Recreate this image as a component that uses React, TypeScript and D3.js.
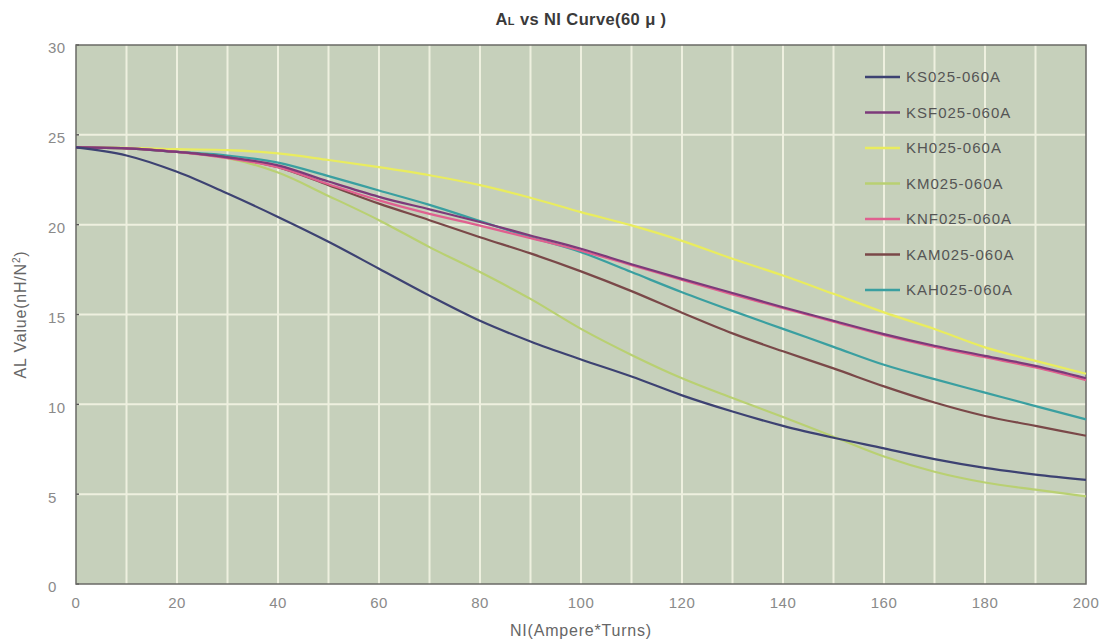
import React from "react";
import * as d3 from "d3";

const W = 1105;
const H = 641;

const niValues = [0, 10, 20, 30, 40, 50, 60, 70, 80, 90, 100, 110, 120, 130, 140, 150, 160, 170, 180, 190, 200];

const seriesNames = ["KS025-060A", "KSF025-060A", "KH025-060A", "KM025-060A", "KNF025-060A", "KAM025-060A", "KAH025-060A"];
const seriesColors = ["#3d4272", "#7c3a7a", "#e9ec5e", "#b9d072", "#e0608f", "#7a4848", "#3a9fa0"];

const ks = [24.3, 23.85, 22.94, 21.73, 20.43, 19.05, 17.55, 16.05, 14.65, 13.5, 12.5, 11.55, 10.5, 9.6, 8.8, 8.14, 7.55, 6.95, 6.46, 6.09, 5.8];
const ksf = [24.3, 24.25, 24.05, 23.75, 23.3, 22.4, 21.55, 20.85, 20.15, 19.4, 18.66, 17.8, 16.98, 16.2, 15.4, 14.65, 13.91, 13.26, 12.7, 12.14, 11.45];
const kh = [24.3, 24.28, 24.2, 24.15, 23.97, 23.6, 23.2, 22.75, 22.2, 21.5, 20.7, 19.96, 19.1, 18.1, 17.17, 16.15, 15.12, 14.19, 13.17, 12.42, 11.7];
const km = [24.3, 24.25, 24.05, 23.7, 22.9, 21.6, 20.25, 18.75, 17.36, 15.87, 14.2, 12.75, 11.45, 10.35, 9.3, 8.2, 7.1, 6.25, 5.65, 5.25, 4.88];
const knf = [24.3, 24.25, 24.05, 23.7, 23.2, 22.25, 21.35, 20.6, 19.95, 19.25, 18.55, 17.75, 16.92, 16.12, 15.35, 14.6, 13.85, 13.2, 12.62, 12.05, 11.35];
const kam = [24.3, 24.25, 24.05, 23.75, 23.2, 22.2, 21.17, 20.25, 19.3, 18.4, 17.4, 16.3, 15.1, 13.95, 12.95, 12.0, 11.0, 10.1, 9.35, 8.8, 8.25];
const kah = [24.3, 24.25, 24.05, 23.85, 23.45, 22.7, 21.9, 21.1, 20.2, 19.3, 18.47, 17.36, 16.24, 15.2, 14.2, 13.2, 12.2, 11.4, 10.65, 9.9, 9.16];

const seriesValues = [ks, ksf, kh, km, knf, kam, kah];
const drawOrder = [2, 3, 6, 5, 4, 1, 0];

const xTicks = [0, 20, 40, 60, 80, 100, 120, 140, 160, 180, 200];
const xGrid = [10, 20, 30, 40, 50, 60, 70, 80, 90, 100, 110, 120, 130, 140, 150, 160, 170, 180, 190];
const yTicks = [0, 5, 10, 15, 20, 25, 30];
const yGrid = [5, 10, 15, 20, 25];

const PL = 76, PR = 1086, PT = 45, PB = 584;

export default function App() {
  const x = d3.scaleLinear().domain([0, 200]).range([PL, PR]);
  const y = d3.scaleLinear().domain([0, 30]).range([PB, PT]);
  const line = d3
    .line<number>()
    .x((_, i) => x(niValues[i]))
    .y((d) => y(d))
    .curve(d3.curveMonotoneX);

  const font = "'Liberation Sans', Arial, sans-serif";
  const legendX1 = 865, legendX2 = 900, legendTextX = 906;
  const legendY0 = 77, legendDy = 35.5;

  return (
    <svg
      width={W}
      height={H}
      style={{ position: "absolute", left: 0, top: 0, background: "#ffffff" }}
      fontFamily={font}
    >
      <rect x={PL} y={PT} width={PR - PL} height={PB - PT} fill="#c6d0bb" />
      {xGrid.map((g) => (
        <line key={"xg" + g} x1={x(g)} x2={x(g)} y1={PT} y2={PB} stroke="#eef0df" strokeWidth={2} />
      ))}
      {yGrid.map((g) => (
        <line key={"yg" + g} x1={PL} x2={PR} y1={y(g)} y2={y(g)} stroke="#eef0df" strokeWidth={2} />
      ))}
      {yTicks.map((t) => (
        <line key={"yt" + t} x1={PL} x2={PL + 3} y1={y(t)} y2={y(t)} stroke="#555" strokeWidth={1.5} />
      ))}
      <rect x={PL} y={PT} width={PR - PL} height={PB - PT} fill="none" stroke="#6a6a66" strokeWidth={1.5} />

      {drawOrder.map((si) => (
        <path
          key={seriesNames[si]}
          d={line(seriesValues[si]) || ""}
          fill="none"
          stroke={seriesColors[si]}
          strokeWidth={2.2}
          strokeLinejoin="round"
        />
      ))}

      {seriesNames.map((n, i) => (
        <g key={"lg" + n}>
          <line
            x1={legendX1}
            x2={legendX2}
            y1={legendY0 + i * legendDy}
            y2={legendY0 + i * legendDy}
            stroke={seriesColors[i]}
            strokeWidth={2.5}
          />
          <text
            x={legendTextX}
            y={legendY0 + i * legendDy}
            dy="0.36em"
            fontSize={15}
            letterSpacing={1}
            fill="#555"
          >
            {n}
          </text>
        </g>
      ))}

      {xTicks.map((t) => (
        <text key={"xl" + t} x={x(t)} y={608} textAnchor="middle" fontSize={15} fill="#8a8a8a" letterSpacing={0.5}>
          {t}
        </text>
      ))}
      {yTicks.map((t) => (
        <text key={"yl" + t} x={48} y={y(t) + 3} dy="0.36em" textAnchor="start" fontSize={15} fill="#8a8a8a" letterSpacing={0.5}>
          {t}
        </text>
      ))}

      <text x={(PL + PR) / 2} y={25} textAnchor="middle" fontSize={16.5} fontWeight="bold" fill="#3a3a3a" letterSpacing={0.4}>
        A<tspan fontSize={11}>L</tspan> vs NI Curve(60 μ )
      </text>
      <text x={(PL + PR) / 2} y={636} textAnchor="middle" fontSize={16} fill="#666" letterSpacing={0.8}>
        NI(Ampere*Turns)
      </text>
      <text
        transform={`translate(26, ${(PT + PB) / 2}) rotate(-90)`}
        textAnchor="middle"
        fontSize={16}
        fill="#666"
        letterSpacing={0.8}
      >
        AL Value(nH/N<tspan fontSize={10} dy={-6}>2</tspan>
        <tspan dy={6}>)</tspan>
      </text>
    </svg>
  );
}
